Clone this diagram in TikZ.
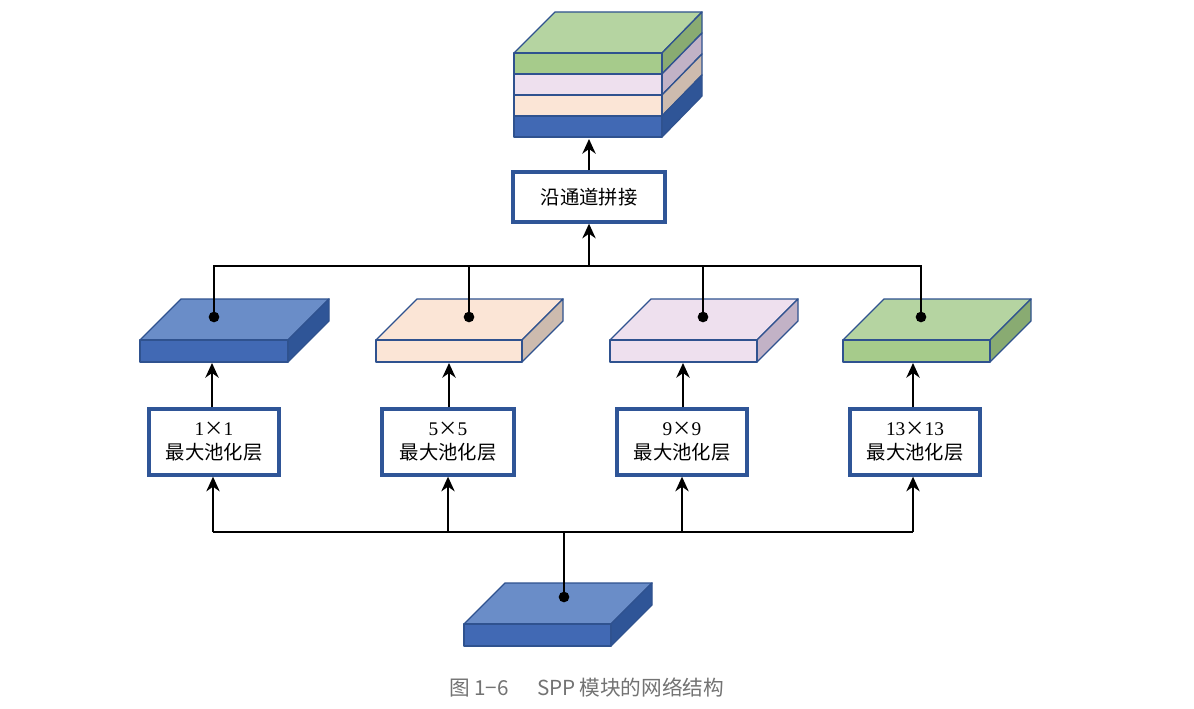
\documentclass[tikz,border=0pt]{standalone}
\usepackage{fontspec}
\setmainfont{Liberation Serif}
\newfontfamily\cjk{Noto Sans CJK SC}
\usetikzlibrary{arrows.meta}
\definecolor{edgec}{HTML}{2F528F}
\definecolor{boxc}{HTML}{2F5597}
\definecolor{bluef}{HTML}{4169B4}
\definecolor{bluet}{HTML}{6A8DC8}
\definecolor{bluer}{HTML}{2F5597}
\definecolor{peachf}{HTML}{FBE5D6}
\definecolor{peachr}{HTML}{CDBBAE}
\definecolor{lavf}{HTML}{EEE0EE}
\definecolor{lavr}{HTML}{C2B2C6}
\definecolor{greenf}{HTML}{A6CB8B}
\definecolor{greent}{HTML}{B5D4A1}
\definecolor{greenr}{HTML}{89AB72}
\newcommand\tms{{\cjk ×}}
\tikzset{
  face/.style={draw=edgec,line width=1pt,line join=round},
  opbox/.style={draw=boxc,line width=3pt,fill=white,align=center,inner sep=0pt,
     font=\fontsize{14.5}{18}\selectfont},
  wire/.style={line width=1.5pt,black},
  arr/.style={wire,-{Stealth[length=11pt,width=10pt,inset=3.5pt]}},
  dotc/.style={circle,fill=black,inner sep=0pt,minimum size=8pt}
}
% slab: x1 x2 ytop ybot front top right
\newcommand\mySlab[7]{%
  \filldraw[face,fill=#5] (#1,#3) -- (#1+41,#3-41) -- (#2+41,#3-41) -- (#2,#3) -- cycle;
  \filldraw[face,fill=#7] (#2,#3) -- (#2+41,#3-41) -- (#2+41,#4-41) -- (#2,#4) -- cycle;
  \filldraw[face,fill=#6] (#1,#3) rectangle (#2,#4);
}
\newcommand\myLayer[6]{% x1 x2 ytop ybot front right
  \filldraw[face,fill=#6] (#2,#3) -- (#2+40,#3-41) -- (#2+40,#4-41) -- (#2,#4) -- cycle;
  \filldraw[face,fill=#5] (#1,#3) rectangle (#2,#4);
}
\begin{document}
\begin{tikzpicture}[x=0.75pt,y=-0.75pt]
\useasboundingbox[fill=white] (0,0) rectangle (1194,709);
% top stack
\filldraw[face,fill=greent] (514,53) -- (555,12) -- (702,12) -- (662,53) -- cycle;
\myLayer{514}{662}{53}{74}{greenf}{greenr}
\myLayer{514}{662}{74}{95}{lavf}{lavr}
\myLayer{514}{662}{95}{116}{peachf}{peachr}
\myLayer{514}{662}{116}{137}{bluef}{bluer}
\coordinate (stackb) at (589,139);
% slabs
\mySlab{140}{288}{340}{362}{bluet}{bluef}{bluer}
\mySlab{376}{522}{340}{362}{peachf}{peachf}{peachr}
\mySlab{610}{757}{340}{362}{lavf}{lavf}{lavr}
\mySlab{843}{990}{340}{362}{greent}{greenf}{greenr}
\mySlab{464}{611}{624}{646}{bluet}{bluef}{bluer}
% dots
\node[dotc] (d1) at (214,317) {};
\node[dotc] (d2) at (469,317) {};
\node[dotc] (d3) at (703,317) {};
\node[dotc] (d4) at (921,317) {};
\node[dotc] (d0) at (564,597) {};
\coordinate (s1) at (212,363);
\coordinate (s2) at (449,363);
\coordinate (s3) at (683,363);
\coordinate (s4) at (913,363);
% boxes
\node[opbox,minimum width=97pt,minimum height=49pt] (p1) at (214,442) {1\tms1\\{\cjk 最大池化层}};
\node[opbox,minimum width=99pt,minimum height=49pt] (p2) at (448,442) {5\tms5\\{\cjk 最大池化层}};
\node[opbox,minimum width=98pt,minimum height=49pt] (p3) at (682,442) {9\tms9\\{\cjk 最大池化层}};
\node[opbox,minimum width=97pt,minimum height=49pt] (p4) at (915,442) {13\tms13\\{\cjk 最大池化层}};
\node[opbox,minimum width=114pt,minimum height=37pt] (cat) at (589,197) {\cjk 沿通道拼接};
% top bus
\coordinate (busT) at (589,266);
\draw[wire] (d1.center) -- (d1.center|-busT) -- (d4.center|-busT) -- (d4.center);
\draw[wire] (d2.center) -- (d2.center|-busT);
\draw[wire] (d3.center) -- (d3.center|-busT);
\draw[arr] (busT) -- (cat.south);
\draw[arr] (cat.north) -- (stackb);
% box to slab
\draw[arr] (s1|-p1.north) -- (s1);
\draw[arr] (s2|-p2.north) -- (s2);
\draw[arr] (s3|-p3.north) -- (s3);
\draw[arr] (s4|-p4.north) -- (s4);
% bottom bus
\coordinate (busB) at (564,532);
\draw[wire] (d0.center) -- (busB);
\draw[wire] (213,532) coordinate (b1) -- (913,532) coordinate (b4);
\draw[arr] (b1) -- (b1|-p1.south);
\draw[arr] (448,532) -- (p2.south);
\draw[arr] (682,532) -- (p3.south);
\draw[arr] (b4) -- (b4|-p4.south);
% caption
\node[font=\cjk\fontsize{15.5}{18}\selectfont,text=black!55] (cap) at (587,688) {图\,1−6\hspace{1.4em}SPP\,模块的网络结构};
\end{tikzpicture}
\end{document}
